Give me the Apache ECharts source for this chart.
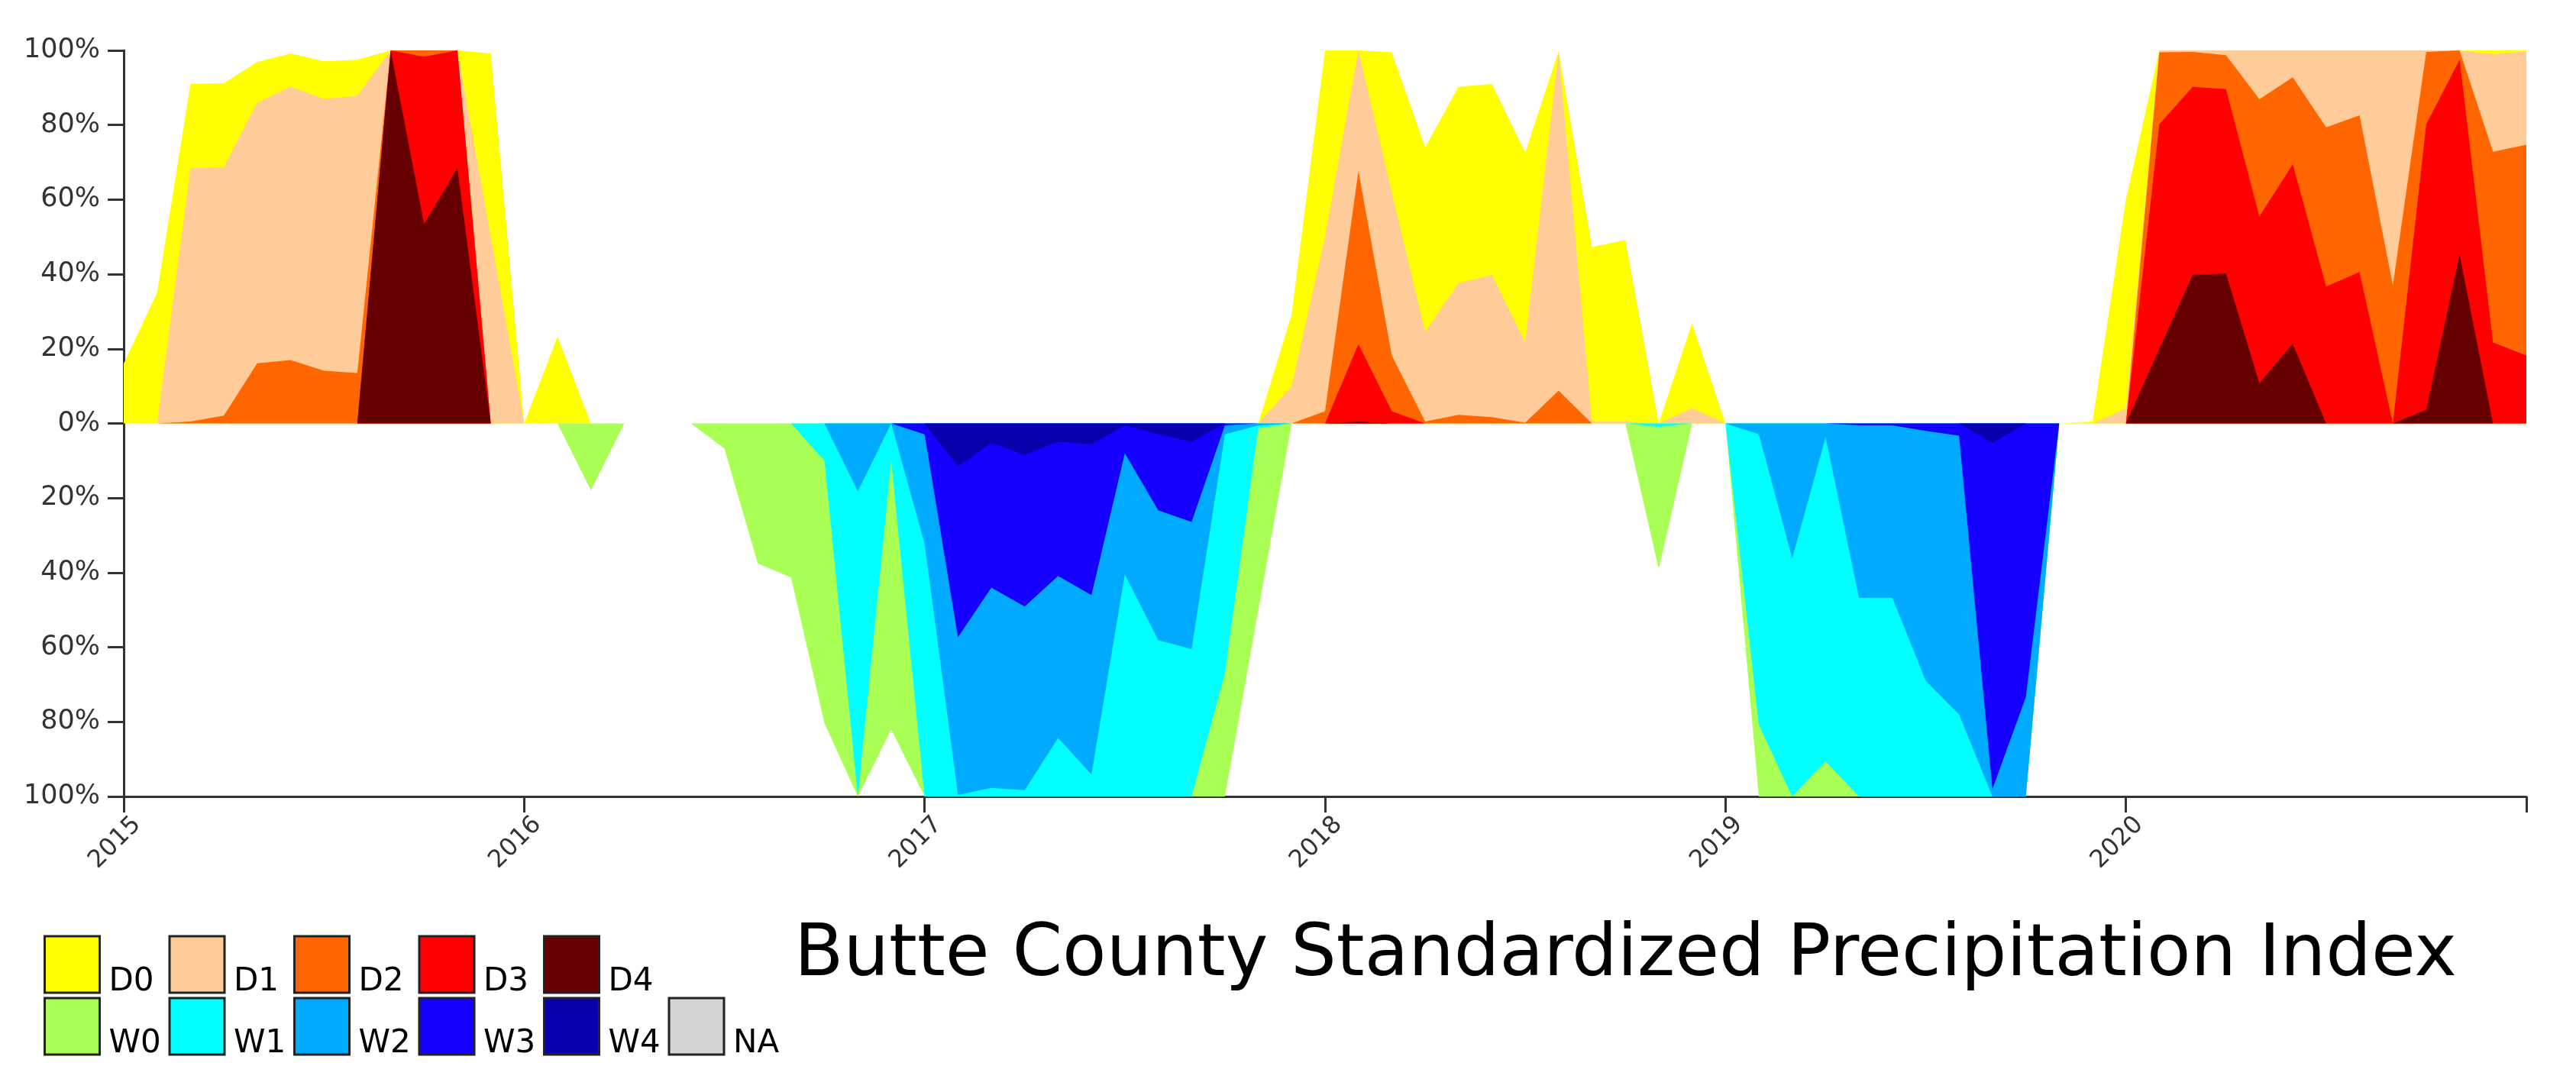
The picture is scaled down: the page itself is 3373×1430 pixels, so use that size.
<!DOCTYPE html>
<html>
<head>
<meta charset="utf-8">
<title>Butte County SPI</title>
<script src="https://cdn.jsdelivr.net/npm/echarts@6/dist/echarts.min.js"></script>
<style>
  html, body { margin: 0; padding: 0; background: #fff; }
  #chart { width: 3373px; height: 1430px; }
</style>
</head>
<body>
<div id="chart"></div>
<script>
// monthly points, Jan 2015 .. Jan 2021
const months = []
for (let y = 2015; y <= 2021; y++) {
  for (let m = 1; m <= 12; m++) {
    if (y === 2021 && m > 1) break
    months.push(y + '-' + (m < 10 ? '0' + m : m))
  }
}

// drought categories, % of area at or worse than the category
const d0 = [16, 35, 91, 91.2, 96.9, 99.2, 97.1, 97.5, 100, 100, 100, 99.2,
  0, 23.3, 0, 0, 0, 0, 0, 0, 0, 0, 0, 0,
  0, 0, 0, 0, 0, 0, 0, 0, 0, 0, 0, 29.2,
  100, 100, 99.5, 74, 90.3, 91, 72.6, 99.8, 47.3, 49.2, 0, 26.8,
  0, 0, 0, 0, 0, 0, 0, 0, 0, 0, 0, 0.5,
  60, 100, 100, 100, 100, 100, 100, 100, 100, 100, 100, 100,
  100]
const d1 = [0, 0, 68.4, 68.7, 86, 90.3, 87, 87.8, 100, 100, 100, 50,
  0, 0, 0, 0, 0, 0, 0, 0, 0, 0, 0, 0,
  0, 0, 0, 0, 0, 0, 0, 0, 0, 0, 0, 10,
  50, 100, 62, 24.5, 37.6, 39.8, 21.7, 99.6, 0.5, 0.5, 0, 4.1,
  0, 0, 0, 0, 0, 0, 0, 0, 0, 0, 0, 0,
  4, 100, 100, 100, 100, 100, 100, 100, 100, 100, 100, 99,
  99.8]
const d2 = [0, 0, 0.5, 2.1, 16.1, 17, 14.1, 13.5, 100, 100, 100, 0,
  0, 0, 0, 0, 0, 0, 0, 0, 0, 0, 0, 0,
  0, 0, 0, 0, 0, 0, 0, 0, 0, 0, 0, 0,
  3.3, 67.7, 18.2, 0.5, 2.3, 1.7, 0.2, 8.8, 0, 0, 0, 0,
  0, 0, 0, 0, 0, 0, 0, 0, 0, 0, 0, 0,
  0, 99.5, 99.6, 98.7, 86.9, 92.8, 79.4, 82.6, 37, 99.6, 100, 72.8,
  74.7]
const d3 = [0, 0, 0, 0, 0, 0, 0, 0, 100, 98.3, 100, 0,
  0, 0, 0, 0, 0, 0, 0, 0, 0, 0, 0, 0,
  0, 0, 0, 0, 0, 0, 0, 0, 0, 0, 0, 0,
  0, 21.3, 3.3, 0, 0, 0, 0, 0, 0, 0, 0, 0,
  0, 0, 0, 0, 0, 0, 0, 0, 0, 0, 0, 0,
  0, 80.2, 90.2, 89.6, 55.5, 69.5, 36.7, 40.6, 0, 80.2, 97.5, 21.7,
  18.2]
const d4 = [0, 0, 0, 0, 0, 0, 0, 0, 100, 53.5, 68.4, 0,
  0, 0, 0, 0, 0, 0, 0, 0, 0, 0, 0, 0,
  0, 0, 0, 0, 0, 0, 0, 0, 0, 0, 0, 0,
  0, 0.5, 0, 0, 0, 0, 0, 0, 0, 0, 0, 0,
  0, 0, 0, 0, 0, 0, 0, 0, 0, 0, 0, 0,
  0, 20, 39.8, 40.2, 10.8, 21.4, 0, 0, 0, 3.7, 45.3, 0,
  0]

// wet categories, % of area (drawn downward)
const w0 = [0, 0, 0, 0, 0, 0, 0, 0, 0, 0, 0, 0,
  0, 0, 17.9, 0, 0, 0, 6.7, 37.5, 41.3, 80.4, 100, 82,
  100, 100, 100, 100, 100, 100, 100, 100, 100, 100, 50, 0,
  0, 0, 0, 0, 0, 0, 0, 0, 0, 0, 39, 0,
  0, 100, 100, 100, 100, 100, 100, 100, 100, 100, 0, 0,
  0, 0, 0, 0, 0, 0, 0, 0, 0, 0, 0, 0,
  0]
const w1 = [0, 0, 0, 0, 0, 0, 0, 0, 0, 0, 0, 0,
  0, 0, 0, 0, 0, 0, 0, 0, 0, 10, 100, 10,
  100, 100, 100, 100, 100, 100, 100, 100, 100, 67, 1.3, 0,
  0, 0, 0, 0, 0, 0, 0, 0, 0, 0, 0.9, 0,
  0, 80.8, 100, 90.6, 100, 100, 100, 100, 100, 100, 0, 0,
  0, 0, 0, 0, 0, 0, 0, 0, 0, 0, 0, 0,
  0]
const w2 = [0, 0, 0, 0, 0, 0, 0, 0, 0, 0, 0, 0,
  0, 0, 0, 0, 0, 0, 0, 0, 0, 0, 18.2, 0,
  32.3, 99.6, 97.7, 98.3, 84.3, 94.1, 40.5, 58.1, 60.5, 2.9, 0.5, 0,
  0, 0, 0, 0, 0, 0, 0, 0, 0, 0, 0, 0,
  0, 2.9, 36.2, 3.7, 46.7, 46.7, 69, 78, 100, 100, 0, 0,
  0, 0, 0, 0, 0, 0, 0, 0, 0, 0, 0, 0,
  0]
const w3 = [0, 0, 0, 0, 0, 0, 0, 0, 0, 0, 0, 0,
  0, 0, 0, 0, 0, 0, 0, 0, 0, 0, 0, 0,
  2.9, 57.3, 44, 49.1, 40.9, 46, 8, 23.3, 26.4, 0.5, 0, 0,
  0, 0, 0, 0, 0, 0, 0, 0, 0, 0, 0, 0,
  0, 0, 0, 0, 0.5, 0.5, 2, 3.3, 98, 73.4, 0, 0,
  0, 0, 0, 0, 0, 0, 0, 0, 0, 0, 0, 0,
  0]
const w4 = [0, 0, 0, 0, 0, 0, 0, 0, 0, 0, 0, 0,
  0, 0, 0, 0, 0, 0, 0, 0, 0, 0, 0, 0,
  0, 11.5, 5.2, 8.4, 4.9, 5.6, 0.5, 2.9, 4.9, 0, 0, 0,
  0, 0, 0, 0, 0, 0, 0, 0, 0, 0, 0, 0,
  0, 0, 0, 0, 0, 0, 0, 0, 5.2, 0, 0, 0,
  0, 0, 0, 0, 0, 0, 0, 0, 0, 0, 0, 0,
  0]
const naValues = []

const yTicks = [-100, 100, 20] // min, max, step

const colors = {
  D0: '#ffff00', D1: '#ffcc99', D2: '#ff6600', D3: '#ff0000', D4: '#660000',
  W0: '#aaff55', W1: '#00ffff', W2: '#00aaff', W3: '#1500ff', W4: '#0800aa',
  NA: '#d3d3d3'
}

const FONT = 'DejaVu Sans'

function areaSeries(name, data) {
  return {
    name: name,
    type: 'line',
    data: data,
    symbol: 'none',
    silent: true,
    color: colors[name],
    lineStyle: { width: 0 },
    areaStyle: { color: colors[name], opacity: 1, origin: 0 }
  }
}

const neg = arr => arr.map(v => -v)

// legend labels sit low, next to the bottom of each swatch
const legendBase = {
  left: 57,
  padding: 0,
  orient: 'horizontal',
  icon: 'rect',
  itemWidth: 72,
  itemHeight: 74,
  itemGap: 8,
  selectedMode: false,
  itemStyle: { borderColor: '#222', borderWidth: 3 },
  formatter: name => '{t|' + name + '}',
  textStyle: {
    rich: {
      t: {
        fontFamily: FONT,
        fontSize: 42,
        color: '#000',
        lineHeight: 44,
        width: 70,
        padding: [46, 0, 0, 7]
      }
    }
  }
}

const chart = echarts.init(document.getElementById('chart'))
chart.setOption({
  backgroundColor: '#fff',
  animation: false,
  title: {
    text: 'Butte County Standardized Precipitation Index',
    left: 1035,
    top: 1201,
    textStyle: { fontFamily: FONT, fontSize: 94, fontWeight: 'normal', color: '#000' }
  },
  legend: [
    Object.assign({}, legendBase, { top: 1219, data: ['D0', 'D1', 'D2', 'D3', 'D4'] }),
    Object.assign({}, legendBase, { top: 1300, data: ['W0', 'W1', 'W2', 'W3', 'W4', 'NA'] })
  ],
  grid: { left: 162, right: 65, top: 66, bottom: 387, containLabel: false },
  xAxis: {
    type: 'category',
    data: months,
    boundaryGap: false,
    axisLine: { onZero: false, lineStyle: { color: '#333', width: 3 } },
    axisTick: {
      length: 21,
      interval: idx => idx % 12 === 0,
      lineStyle: { color: '#333', width: 3 }
    },
    axisLabel: {
      interval: idx => idx % 12 === 0 && idx < months.length - 1,
      formatter: v => v.slice(0, 4),
      rotate: 45,
      align: 'center',
      verticalAlign: 'bottom',
      margin: 72,
      fontFamily: FONT,
      fontSize: 32,
      color: '#333'
    },
    splitLine: { show: false }
  },
  yAxis: {
    type: 'value',
    min: yTicks[0],
    max: yTicks[1],
    interval: yTicks[2],
    axisLine: { show: true, lineStyle: { color: '#333', width: 3 } },
    axisTick: { show: true, length: 21, lineStyle: { color: '#333', width: 3 } },
    axisLabel: {
      formatter: v => Math.abs(v) + '%',
      margin: 31,
      fontFamily: FONT,
      fontSize: 35,
      color: '#333'
    },
    splitLine: { show: false }
  },
  series: [
    areaSeries('D0', d0),
    areaSeries('D1', d1),
    areaSeries('D2', d2),
    areaSeries('D3', d3),
    areaSeries('D4', d4),
    areaSeries('W0', neg(w0)),
    areaSeries('W1', neg(w1)),
    areaSeries('W2', neg(w2)),
    areaSeries('W3', neg(w3)),
    areaSeries('W4', neg(w4)),
    areaSeries('NA', naValues)
  ]
})
</script>
</body>
</html>
